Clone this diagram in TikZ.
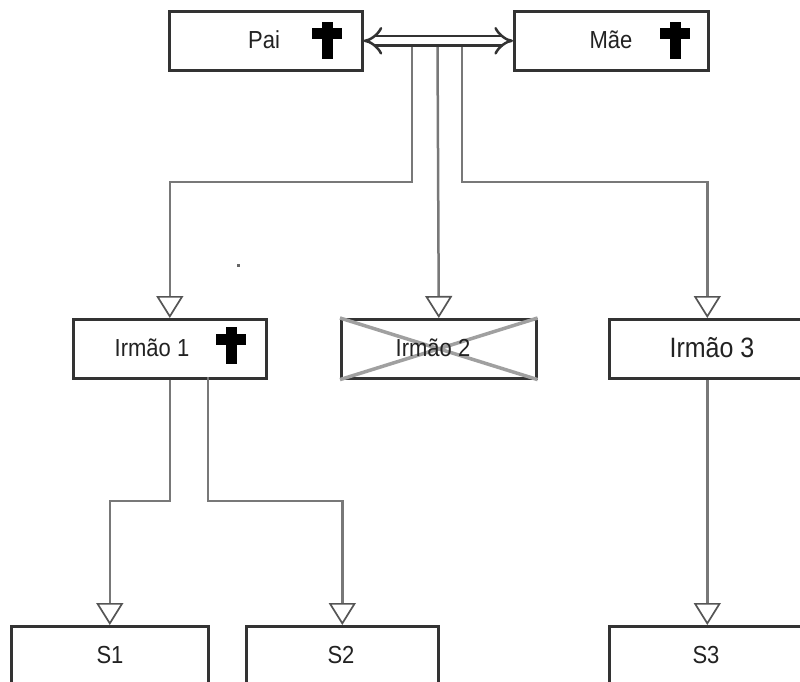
\documentclass[tikz,border=0pt]{standalone}
\usepackage{fontspec}
\usepackage{graphicx}
\setmainfont{Liberation Sans}
\usetikzlibrary{arrows.meta,calc}
\definecolor{boxc}{HTML}{333333}
\definecolor{connc}{HTML}{787878}
\definecolor{tipc}{HTML}{555555}
\definecolor{xlinec}{HTML}{A0A0A0}
\definecolor{txtc}{HTML}{222222}
\newcommand{\tallt}[1]{\scalebox{1}[1.12]{#1}}
\begin{document}
\begin{tikzpicture}[x=1pt,y=-1pt,
  box/.style={draw=boxc, line width=2.6pt, fill=white, minimum width=#1,
    minimum height=59pt, inner sep=0pt, anchor=north west},
  lbl/.style={font=\fontsize{22}{26}\selectfont, text=txtc, inner sep=0pt},
  biglbl/.style={font=\fontsize{25}{29}\selectfont, text=txtc, inner sep=0pt},
  conn/.style={draw=connc, line width=2.5pt,
    -{Triangle[length=22pt,width=27pt,fill=white,color=tipc,line width=1.7pt]}},
  dbl/.style={draw=boxc, double=white, line width=2.5pt, double distance=7pt,
    {Implies[length=13pt,width=27pt]}-{Implies[length=13pt,width=27pt]}},
  xline/.style={draw=xlinec, line width=3.5pt},
  crossc/.style={fill=black}
]
\useasboundingbox (0,0) rectangle (800,682);
\fill[white] (0,0) rectangle (800,682);

% boxes
\node[box=193pt] (pai) at (168,10) {};
\node[box=194pt] (mae) at (513,10) {};
\node[box=193pt] (i1) at (72,318) {};
\node[box=195pt] (i2) at (340,318) {};
\node[box=196pt] (i3) at (608,318) {};
\node[box=197pt] (s1) at (10,625) {};
\node[box=192pt] (s2) at (245,625) {};
\node[box=196pt] (s3) at (608,625) {};

% crossed-out box
\draw[xline] (i2.north west) -- (i2.south east);
\draw[xline] (i2.south west) -- (i2.north east);

% labels
\node[lbl] (paiT) at (264,40) {\tallt{Pai}};
\node[lbl] (maeT) at (611,40) {\tallt{Mãe}};
\node[lbl] (i1T) at (152,348) {\tallt{Irmão 1}};
\node[lbl] (i2T) at (433,348) {\tallt{Irmão 2}};
\node[biglbl] (i3T) at (712,348) {\tallt{Irmão 3}};
\node[lbl] (s1T) at (110,655) {\tallt{S1}};
\node[lbl] (s2T) at (341,655) {\tallt{S2}};
\node[lbl] (s3T) at (706,655) {\tallt{S3}};

% crosses
\foreach \cx/\ty in {327/22, 675/22, 231/327}{
  \fill[crossc] (\cx-5.5,\ty) rectangle (\cx+5.5,\ty+37);
  \fill[crossc] (\cx-15,\ty+6.5) rectangle (\cx+15,\ty+17.5);
}

% junction points and levels
\coordinate (j1) at (412,44);
\coordinate (j2) at (437.5,44);
\coordinate (j3) at (462,44);
\coordinate (lvlA) at (0,182);
\coordinate (lvlB) at (0,501);
\coordinate (k2) at (208,377);

% connectors
\draw[conn] (j1) -- (j1 |- lvlA) -| (i1.north);
\draw[conn] (j2) -- (i2.north);
\draw[conn] (j3) -- (j3 |- lvlA) -| (i3.north);
\draw[conn] (i1.south) -- (i1.south |- lvlB) -| (s1.north);
\draw[conn] (k2) -- (k2 |- lvlB) -| (s2.north);
\draw[conn] (i3.south) -- (s3.north);

% marriage double arrow
\draw[dbl] (pai.east) -- (mae.west);

% stray mark
\fill[black!60] (237,264) rectangle (240,267);
\end{tikzpicture}
\end{document}
